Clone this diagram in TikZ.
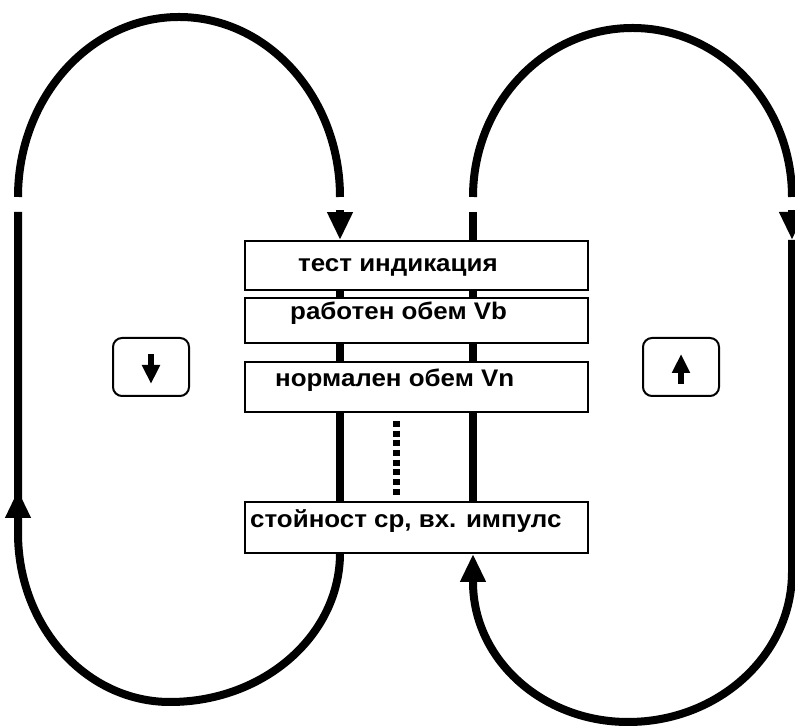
\documentclass[tikz,border=0pt]{standalone}
\usepackage{fontspec}
\setmainfont{Liberation Sans}
\newfontfamily\menufont{Liberation Sans}[FakeStretch=1.08]
\usetikzlibrary{arrows.meta}
\begin{document}
\begin{tikzpicture}[x=1pt,y=1pt,
  loopline/.style={line width=8pt},
  looptip/.style={line width=8pt,-{Triangle[width=24pt,length=28pt]}},
  menubox/.style={draw,line width=1.8pt,minimum width=343pt,inner sep=0pt},
  boxtext/.style={anchor=base west,inner sep=0pt,font=\menufont\fontsize{24}{26}\selectfont\bfseries},
  keybox/.style={draw,line width=2pt,rounded corners=9pt,minimum width=76pt,minimum height=58pt,inner sep=0pt},
  keyarrow/.style={line width=6pt,-{Triangle[width=17pt,length=19pt]}}
]
\useasboundingbox (0,0) rectangle (795,727);

% menu boxes
\node[menubox,minimum height=49pt] (b1) at (416.5,461.5) {};
\node[menubox,minimum height=45pt] (b2) at (416.5,406.5) {};
\node[menubox,minimum height=50pt] (b3) at (416.5,340) {};
\node[menubox,minimum height=51pt] (b4) at (416.5,199.5) {};

\node[boxtext] (t1) at (298,455) {тест индикация};
\node[boxtext] (t2) at (290,407) {работен обем Vb};
\node[boxtext] (t3) at (275,340) {нормален обем Vn};
\node[boxtext] (t4) at (250,199) {стойност ср, вх. импулс};

% columns
\coordinate (cl) at (340,0);
\coordinate (cr) at (473,0);

% links between boxes
\draw[loopline] (b1.south -| cl) -- (b2.north -| cl);
\draw[loopline] (b2.south -| cl) -- (b3.north -| cl);
\draw[loopline] (b3.south -| cl) -- (b4.north -| cl);
\draw[loopline] (b1.south -| cr) -- (b2.north -| cr);
\draw[loopline] (b2.south -| cr) -- (b3.north -| cr);
\draw[loopline] (b3.south -| cr) -- (b4.north -| cr);

% dotted ellipsis
\coordinate (d1) at (396,306);
\coordinate (d2) at (396,232);
\draw[line width=7pt,dash pattern=on 6pt off 3.7pt] (d1) -- (d2);

% left loop
\coordinate (LA1) at (18,530);
\coordinate (LA2) at (340,530);
\coordinate (LAr) at (340,517);
\coordinate (LV1) at (18,515);
\coordinate (LV2) at (18,194);
\coordinate (LVt) at (18,237);
\draw[loopline] (LA1) arc[start angle=180,end angle=0,x radius=161pt,y radius=180pt];
\draw[looptip] (LAr) -- (b1.north -| LAr);
\draw[loopline] (LV1) -- (LV2)
  arc[start angle=180,end angle=270,x radius=152pt,y radius=169pt]
  arc[start angle=270,end angle=360,x radius=170pt,y radius=149pt]
  -- (b4.south -| cl);
\draw[looptip] (LV2) -- (LVt);

% right loop
\coordinate (RB1) at (473,515);
\coordinate (RA1) at (473,530);
\coordinate (RV1) at (792,517);
\coordinate (RVt) at (792,487);
\coordinate (RV2) at (792,155);
\draw[loopline] (b1.north -| cr) -- (RB1);
\draw[loopline] (RA1) arc[start angle=180,end angle=0,x radius=159.5pt,y radius=169pt];
\draw[looptip] (RV1) -- (RVt);
\draw[looptip] (RVt) -- (RV2)
  arc[start angle=0,end angle=-90,x radius=164pt,y radius=150pt]
  arc[start angle=270,end angle=180,x radius=155pt,y radius=140pt]
  -- (b4.south -| cr);
\draw[loopline] (RVt) -- (RV2);

% key boxes
\node[keybox] (k1) at (151,360) {};
\node[keybox] (k2) at (681,360) {};
\draw[keyarrow] ([yshift=13pt]k1.center) -- ([yshift=-17pt]k1.center);
\draw[keyarrow] ([yshift=-17pt]k2.center) -- ([yshift=13pt]k2.center);
\end{tikzpicture}
\end{document}
